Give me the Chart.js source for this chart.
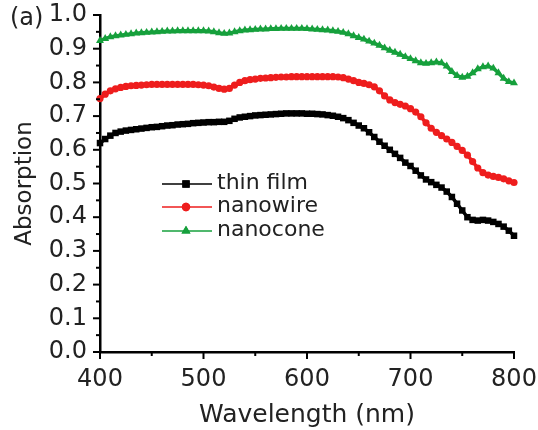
<!DOCTYPE html>
<html>
<head>
<meta charset="utf-8">
<script src="https://cdn.jsdelivr.net/npm/chart.js@4.4.1/dist/chart.umd.min.js"></script>
<style>
  html, body { margin: 0; padding: 0; background: #fff; }
  #wrap { width: 538px; height: 430px; }
</style>
</head>
<body>
<div id="wrap"><canvas id="absorption-chart" width="538" height="430"></canvas></div>
<script>
const wavelengths = [
  400, 405, 410, 415, 420, 425, 430, 435, 440, 445,
  450, 455, 460, 465, 470, 475, 480, 485, 490, 495,
  500, 505, 510, 515, 520, 525, 530, 535, 540, 545,
  550, 555, 560, 565, 570, 575, 580, 585, 590, 595,
  600, 605, 610, 615, 620, 625, 630, 635, 640, 645,
  650, 655, 660, 665, 670, 675, 680, 685, 690, 695,
  700, 705, 710, 715, 720, 725, 730, 735, 740, 745,
  750, 755, 760, 765, 770, 775, 780, 785, 790, 795,
  800,
];

const thinFilm = [
  0.620, 0.632, 0.642, 0.650, 0.654, 0.657, 0.659, 0.661, 0.663, 0.665,
  0.667, 0.668, 0.670, 0.672, 0.673, 0.675, 0.676, 0.677, 0.679, 0.680,
  0.681, 0.682, 0.682, 0.683, 0.683, 0.686, 0.692, 0.696, 0.698, 0.700,
  0.702, 0.703, 0.704, 0.705, 0.706, 0.707, 0.708, 0.708, 0.708, 0.708,
  0.707, 0.707, 0.706, 0.705, 0.703, 0.701, 0.698, 0.694, 0.688, 0.680,
  0.672, 0.664, 0.652, 0.638, 0.624, 0.612, 0.600, 0.588, 0.576, 0.562,
  0.552, 0.538, 0.524, 0.512, 0.504, 0.496, 0.488, 0.476, 0.460, 0.440,
  0.420, 0.400, 0.392, 0.390, 0.392, 0.390, 0.386, 0.380, 0.372, 0.360,
  0.345,
];

const nanowire = [
  0.752, 0.765, 0.775, 0.781, 0.785, 0.788, 0.790, 0.791, 0.792, 0.793,
  0.794, 0.794, 0.794, 0.794, 0.794, 0.794, 0.794, 0.794, 0.794, 0.793,
  0.792, 0.790, 0.786, 0.782, 0.780, 0.782, 0.792, 0.800, 0.805, 0.808,
  0.810, 0.812, 0.813, 0.814, 0.815, 0.816, 0.816, 0.817, 0.817, 0.817,
  0.817, 0.817, 0.817, 0.817, 0.817, 0.817, 0.816, 0.814, 0.810, 0.805,
  0.800, 0.797, 0.793, 0.787, 0.775, 0.760, 0.748, 0.740, 0.735, 0.730,
  0.722, 0.712, 0.698, 0.680, 0.664, 0.652, 0.642, 0.632, 0.622, 0.610,
  0.598, 0.584, 0.565, 0.546, 0.532, 0.525, 0.521, 0.518, 0.514, 0.508,
  0.503,
];

const nanocone = [
  0.924, 0.930, 0.935, 0.938, 0.940, 0.942, 0.944, 0.946, 0.947, 0.948,
  0.949, 0.950, 0.951, 0.952, 0.952, 0.953, 0.953, 0.953, 0.953, 0.953,
  0.953, 0.952, 0.950, 0.947, 0.945, 0.946, 0.950, 0.953, 0.955, 0.956,
  0.957, 0.958, 0.958, 0.959, 0.959, 0.960, 0.960, 0.960, 0.960, 0.960,
  0.959, 0.958, 0.957, 0.956, 0.955, 0.953, 0.951, 0.948, 0.944, 0.938,
  0.933, 0.928, 0.922, 0.916, 0.910, 0.902, 0.895, 0.889, 0.883, 0.876,
  0.870, 0.864, 0.858, 0.856, 0.858, 0.860, 0.858, 0.848, 0.832, 0.820,
  0.815, 0.818, 0.828, 0.840, 0.846, 0.848, 0.842, 0.828, 0.812, 0.802,
  0.798,
];

const seriesNames = ["thin film", "nanowire", "nanocone"];
const xTicks = [400, 500, 600, 700, 800];
const yTicks = [0.0, 0.1, 0.2, 0.3, 0.4, 0.5, 0.6, 0.7, 0.8, 0.9, 1.0];

const FONT = "'DejaVu Sans', sans-serif";

const toPoints = (values) => values.map((v, i) => ({ x: wavelengths[i], y: v }));

function makeDataset(label, values, color, pointStyle, radius) {
  return {
    label,
    data: toPoints(values),
    borderColor: color,
    backgroundColor: color,
    borderWidth: 3.5,
    pointStyle,
    pointRadius: radius,
    pointBorderWidth: 0,
    pointHoverRadius: radius,
    tension: 0,
    clip: false,
  };
}

// fixed axis boxes so the plot area lands where the layout padding says
function fitBox(size, horizontal) {
  return (scale) => {
    if (horizontal) scale.height = size;
    else scale.width = size;
    scale.paddingTop = 0;
    scale.paddingBottom = 0;
    scale.paddingLeft = 0;
    scale.paddingRight = 0;
  };
}

// outward major/minor tick marks on both axes, plus the panel tag and legend
const decorPlugin = {
  id: "decor",
  afterDraw(chart) {
    const { ctx } = chart;
    const xs = chart.scales.x;
    const ys = chart.scales.y;
    const left = chart.chartArea.left;
    const bottom = chart.chartArea.bottom;

    ctx.save();
    ctx.strokeStyle = "#000";
    ctx.lineWidth = 2;
    for (let i = 0; i <= 20; i++) {
      const y = ys.getPixelForValue(i * 0.05);
      const len = i % 2 === 0 ? 7 : 4;
      ctx.beginPath();
      ctx.moveTo(left, y);
      ctx.lineTo(left - len, y);
      ctx.stroke();
    }
    for (let w = 400; w <= 800; w += 50) {
      const x = xs.getPixelForValue(w);
      const len = w % 100 === 0 ? 7 : 4;
      ctx.beginPath();
      ctx.moveTo(x, bottom);
      ctx.lineTo(x, bottom + len);
      ctx.stroke();
    }

    ctx.fillStyle = "#222";
    ctx.font = `24px ${FONT}`;
    ctx.textAlign = "left";
    ctx.textBaseline = "middle";
    ctx.fillText("(a)", 10, 19);

    // legend: short line with a marker, then the name
    const rowY = [184, 207, 231];
    chart.data.datasets.forEach((ds, i) => {
      const y = rowY[i];
      ctx.strokeStyle = ds.borderColor;
      ctx.globalAlpha = 0.75;
      ctx.lineWidth = 2;
      ctx.beginPath();
      ctx.moveTo(162, y);
      ctx.lineTo(212, y);
      ctx.stroke();
      ctx.globalAlpha = 1;
      ctx.fillStyle = ds.backgroundColor;
      Chart.helpers.drawPoint(ctx, {
        pointStyle: ds.pointStyle,
        radius: ds.pointRadius + 0.6,
        borderWidth: 0,
        rotation: 0,
      }, 186, y);
      ctx.fill();
      ctx.fillStyle = "#222";
      ctx.font = `22px ${FONT}`;
      ctx.textBaseline = "middle";
      ctx.fillText(ds.label, 217, y - 1);
    });
    ctx.restore();
  },
};

new Chart(document.getElementById("absorption-chart"), {
  type: "line",
  data: {
    datasets: [
      makeDataset(seriesNames[0], thinFilm, "#000000", "rect", 4.6),
      makeDataset(seriesNames[1], nanowire, "#ee1d1d", "circle", 3.6),
      makeDataset(seriesNames[2], nanocone, "#16a03c", "triangle", 4.6),
    ],
  },
  options: {
    responsive: false,
    animation: false,
    events: [],
    layout: {
      padding: { left: 0, top: 15, right: 24, bottom: 0 },
    },
    plugins: {
      legend: { display: false },
      tooltip: { enabled: false },
    },
    scales: {
      x: {
        type: "linear",
        min: 400,
        max: 800,
        afterFit: fitBox(78, true),
        afterBuildTicks: (scale) => { scale.ticks = xTicks.map((v) => ({ value: v })); },
        grid: { display: false, drawTicks: false },
        border: { display: true, width: 2.5, color: "#000" },
        ticks: {
          color: "#222",
          padding: 13,
          maxRotation: 0,
          font: { family: FONT, size: 24 },
        },
        title: {
          display: true,
          text: "Wavelength (nm)",
          color: "#222",
          padding: { top: 12, bottom: 0 },
          font: { family: FONT, size: 25 },
        },
      },
      y: {
        min: 0,
        max: 1,
        afterFit: fitBox(100, false),
        afterBuildTicks: (scale) => { scale.ticks = yTicks.map((v) => ({ value: v })); },
        grid: { display: false, drawTicks: false },
        border: { display: true, width: 2.5, color: "#000" },
        ticks: {
          color: "#222",
          padding: 13,
          font: { family: FONT, size: 24 },
          callback: (v) => v.toFixed(1),
        },
        title: {
          display: true,
          text: "Absorption",
          color: "#222",
          padding: { top: 11, bottom: 0 },
          font: { family: FONT, size: 23 },
        },
      },
    },
  },
  plugins: [decorPlugin],
});
</script>
</body>
</html>
